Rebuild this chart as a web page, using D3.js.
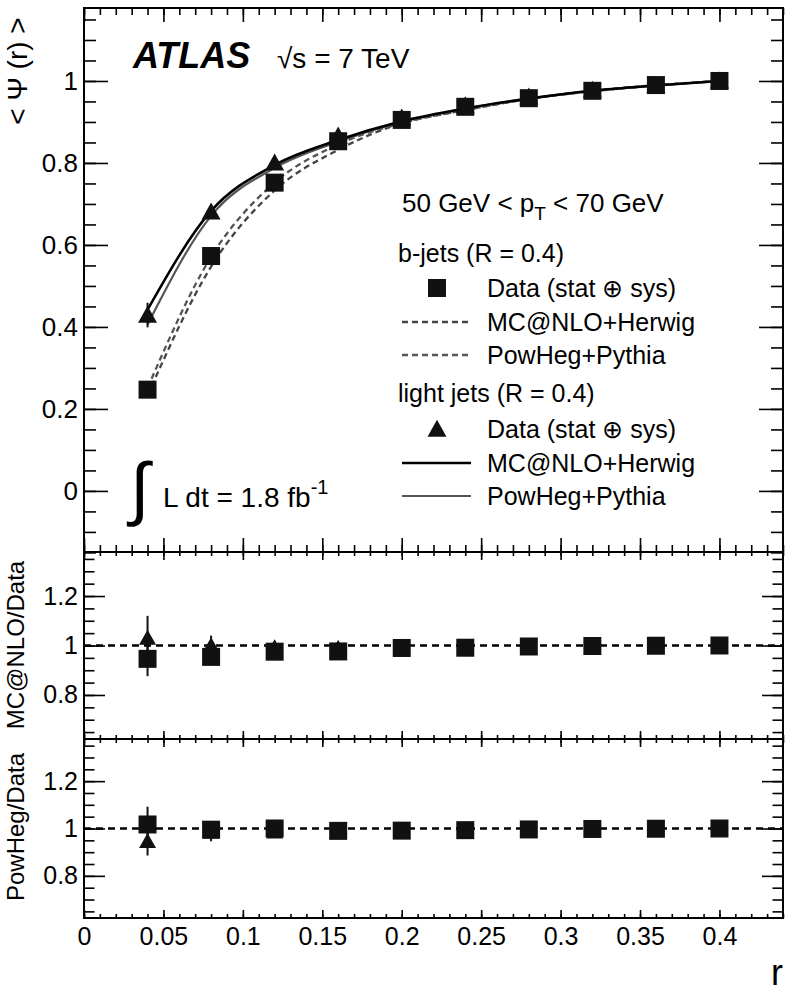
<!DOCTYPE html>
<html><head><meta charset="utf-8">
<script src="https://cdn.jsdelivr.net/npm/d3@7"></script>
<style>
body{margin:0;background:#fff;}
text{font-family:"Liberation Sans",Arial,Helvetica,sans-serif;fill:#000;}
</style></head><body>
<script>
var width = 794, height = 993;

// jet radius bins
var rPoints = [0.04, 0.08, 0.12, 0.16, 0.20, 0.24, 0.28, 0.32, 0.36, 0.40];

// integrated shape, data
var bData = [0.247, 0.573, 0.752, 0.853, 0.905, 0.937, 0.958, 0.976, 0.990, 1.0];
var bErr  = [0.010, 0.012, 0.010, 0.008, 0.006, 0.005, 0.004, 0.003, 0.002, 0.0];
var lData = [0.429, 0.681, 0.800, 0.866, 0.910, 0.940, 0.961, 0.978, 0.990, 1.0];
var lErr  = [0.030, 0.016, 0.012, 0.010, 0.007, 0.005, 0.004, 0.003, 0.002, 0.0];

// integrated shape, MC
var bMcnlo  = [0.233, 0.547, 0.733, 0.832, 0.897, 0.929, 0.956, 0.975, 0.989, 1.0];
var bPowheg = [0.251, 0.571, 0.752, 0.845, 0.897, 0.929, 0.956, 0.976, 0.990, 1.0];
var lMcnlo  = [0.442, 0.683, 0.795, 0.856, 0.902, 0.933, 0.957, 0.976, 0.989, 1.0];
var lPowheg = [0.406, 0.671, 0.788, 0.852, 0.900, 0.932, 0.957, 0.976, 0.989, 1.0];

// MC / data ratios
var mcRatioB = [0.946, 0.954, 0.975, 0.976, 0.990, 0.991, 0.996, 0.998, 0.999, 1.0];
var mcErrB   = [0.070, 0.035, 0.020, 0.015, 0.010, 0.008, 0.006, 0.004, 0.003, 0.002];
var mcRatioL = [1.030, 1.000, 0.992, 0.990, 0.992, 0.993, 0.996, 0.998, 0.999, 1.0];
var mcErrL   = [0.090, 0.040, 0.025, 0.018, 0.012, 0.009, 0.006, 0.004, 0.003, 0.002];
var pwRatioB = [1.017, 0.995, 1.000, 0.990, 0.991, 0.993, 0.996, 0.998, 0.999, 1.0];
var pwErrB   = [0.075, 0.035, 0.020, 0.015, 0.010, 0.008, 0.006, 0.004, 0.003, 0.002];
var pwRatioL = [0.946, 0.986, 0.986, 0.990, 0.990, 0.992, 0.995, 0.998, 0.999, 1.0];
var pwErrL   = [0.060, 0.040, 0.025, 0.018, 0.012, 0.009, 0.006, 0.004, 0.003, 0.002];

// tick labels
var xTicks = [0, 0.05, 0.1, 0.15, 0.2, 0.25, 0.3, 0.35, 0.4];
var yTicksMain = [0, 0.2, 0.4, 0.6, 0.8, 1];
var yTicksRatio = [0.8, 1, 1.2];

var xL = 84, xR = 783;

var x = d3.scaleLinear().domain([0, 0.44]).range([xL, xR]);
var yMain = d3.scaleLinear().domain([-0.149, 1.178]).range([552, 8]);
var yR1 = d3.scaleLinear().domain([0.622, 1.378]).range([739, 552]);
var yR2 = d3.scaleLinear().domain([0.622, 1.378]).range([918, 739]);

var fmt = function(d) { return String(+d.toFixed(2)); };

var svg = d3.select("body").append("svg")
    .attr("width", width).attr("height", height);

function ticks(g) {
  g.select(".domain").remove();
  g.attr("font-size", null).attr("font-family", null);
  g.selectAll("line").attr("stroke", "#000").attr("stroke-width", 1.6);
}

function frame(y, yMinor, yMajor, yLen, xLen, fontSize, xLabels) {
  var top = y.range()[1], bottom = y.range()[0];
  var xMinor = d3.range(0, 45).map(function(i) { return i / 100; });

  // left
  svg.append("g").attr("transform", "translate(" + xL + ",0)")
    .call(d3.axisLeft(y).tickValues(yMinor).tickSize(-yLen / 2).tickFormat(""))
    .call(ticks);
  svg.append("g").attr("transform", "translate(" + xL + ",0)")
    .call(d3.axisLeft(y).tickValues(yMajor).tickSize(-yLen).tickPadding(6).tickFormat(fmt))
    .call(ticks)
    .selectAll("text").attr("font-size", fontSize);
  // right
  svg.append("g").attr("transform", "translate(" + xR + ",0)")
    .call(d3.axisRight(y).tickValues(yMinor).tickSize(-yLen / 2).tickFormat(""))
    .call(ticks);
  svg.append("g").attr("transform", "translate(" + xR + ",0)")
    .call(d3.axisRight(y).tickValues(yMajor).tickSize(-yLen).tickFormat(""))
    .call(ticks);
  // top
  svg.append("g").attr("transform", "translate(0," + top + ")")
    .call(d3.axisTop(x).tickValues(xMinor).tickSize(-xLen / 2).tickFormat(""))
    .call(ticks);
  svg.append("g").attr("transform", "translate(0," + top + ")")
    .call(d3.axisTop(x).tickValues(xTicks).tickSize(-xLen).tickFormat(""))
    .call(ticks);
  // bottom
  svg.append("g").attr("transform", "translate(0," + bottom + ")")
    .call(d3.axisBottom(x).tickValues(xMinor).tickSize(-xLen / 2).tickFormat(""))
    .call(ticks);
  var b = svg.append("g").attr("transform", "translate(0," + bottom + ")")
    .call(d3.axisBottom(x).tickValues(xTicks).tickSize(-xLen).tickPadding(9)
      .tickFormat(xLabels ? fmt : ""))
    .call(ticks);
  b.selectAll("text").attr("font-size", 25);

  svg.append("rect")
    .attr("x", xL).attr("y", top)
    .attr("width", xR - xL).attr("height", bottom - top)
    .attr("fill", "none").attr("stroke", "#000").attr("stroke-width", 2);
}

function sq(g, cx, cy, s) {
  g.append("rect").attr("x", cx - s / 2).attr("y", cy - s / 2)
    .attr("width", s).attr("height", s).attr("fill", "#111");
}
function tri(g, cx, cy, w, h) {
  g.append("path")
    .attr("d", "M" + cx + "," + (cy - h * 0.55) + "L" + (cx - w / 2) + "," + (cy + h * 0.45) +
      "L" + (cx + w / 2) + "," + (cy + h * 0.45) + "Z")
    .attr("fill", "#111");
}

function points(g, y, vals, errs, kind, size) {
  rPoints.forEach(function(r, i) {
    if (errs[i] > 0) {
      g.append("line")
        .attr("x1", x(r)).attr("x2", x(r))
        .attr("y1", y(vals[i] - errs[i])).attr("y2", y(vals[i] + errs[i]))
        .attr("stroke", "#111").attr("stroke-width", 2);
    }
  });
  rPoints.forEach(function(r, i) {
    if (kind === "sq") sq(g, x(r), y(vals[i]), size);
    else tri(g, x(r), y(vals[i]), size + 1, size - 1);
  });
}

// ---------- main panel
var yMinorMain = d3.range(-3, 24).map(function(i) { return i * 0.05; });
frame(yMain, yMinorMain, yTicksMain, 24, 14, 26, false);

var line = d3.line()
  .x(function(d) { return x(d[0]); })
  .y(function(d) { return yMain(d[1]); })
  .curve(d3.curveMonotoneX);

var curves = [
  { v: bMcnlo,  color: "#444", w: 2.3, dash: "6,4" },
  { v: bPowheg, color: "#555", w: 2.3, dash: "6,4" },
  { v: lPowheg, color: "#555", w: 2.2, dash: null },
  { v: lMcnlo,  color: "#000", w: 2.6, dash: null }
];
curves.forEach(function(c) {
  svg.append("path")
    .datum(d3.zip(rPoints, c.v))
    .attr("d", line)
    .attr("fill", "none")
    .attr("stroke", c.color)
    .attr("stroke-width", c.w)
    .attr("stroke-dasharray", c.dash);
});

var gMain = svg.append("g");
points(gMain, yMain, bData, bErr, "sq", 18);
points(gMain, yMain, lData, lErr, "tri", 18);

// ---------- ratio panels
var yMinorRatio = d3.range(13, 28).map(function(i) { return i * 0.05; });
frame(yR1, yMinorRatio, yTicksRatio, 21, 8, 25, false);
frame(yR2, yMinorRatio, yTicksRatio, 21, 8, 25, true);

[yR1, yR2].forEach(function(y) {
  svg.append("line")
    .attr("x1", xL).attr("x2", xR)
    .attr("y1", y(1)).attr("y2", y(1))
    .attr("stroke", "#000").attr("stroke-width", 2.4)
    .attr("stroke-dasharray", "7,5");
});

var gR1 = svg.append("g");
points(gR1, yR1, mcRatioB, mcErrB, "sq", 18);
points(gR1, yR1, mcRatioL, mcErrL, "tri", 16);
var gR2 = svg.append("g");
points(gR2, yR2, pwRatioB, pwErrB, "sq", 18);
points(gR2, yR2, pwRatioL, pwErrL, "tri", 16);

// ---------- axis titles
svg.append("text")
  .attr("transform", "translate(27,71) rotate(-90)")
  .attr("text-anchor", "middle").attr("font-size", 28)
  .text("< \u03A8 (r) >");
svg.append("text")
  .attr("transform", "translate(24,645) rotate(-90)")
  .attr("text-anchor", "middle").attr("font-size", 24)
  .text("MC@NLO/Data");
svg.append("text")
  .attr("transform", "translate(24,827) rotate(-90)")
  .attr("text-anchor", "middle").attr("font-size", 24)
  .text("PowHeg/Data");
svg.append("text")
  .attr("x", xR).attr("y", 985)
  .attr("text-anchor", "end").attr("font-size", 36)
  .text("r");

// ---------- labels
svg.append("text")
  .attr("x", 133).attr("y", 68)
  .attr("font-size", 36).attr("font-weight", "bold").attr("font-style", "italic")
  .text("ATLAS");
svg.append("text")
  .attr("x", 277).attr("y", 68)
  .attr("font-size", 28)
  .text("\u221As = 7 TeV");

svg.append("text")
  .attr("x", 130).attr("y", 512)
  .attr("font-size", 70).attr("font-family", "DejaVu Sans")
  .text("\u222B");
var lumi = svg.append("text")
  .attr("x", 163).attr("y", 507)
  .attr("font-size", 28);
lumi.append("tspan").text("L dt = 1.8 fb");
lumi.append("tspan").attr("dy", -13).attr("font-size", 20).text("-1");

var pt = svg.append("text")
  .attr("x", 402).attr("y", 212).attr("font-size", 26);
pt.append("tspan").text("50 GeV < p");
pt.append("tspan").attr("dy", 8).attr("font-size", 19).text("T");
pt.append("tspan").attr("dy", -8).text(" < 70 GeV");

// ---------- legend
var legend = svg.append("g");
var legX0 = 402, legX1 = 471, legText = 487;
var headers = [
  { t: "b-jets (R = 0.4)", y: 262 },
  { t: "light jets (R = 0.4)", y: 402 }
];
headers.forEach(function(h) {
  legend.append("text").attr("x", 398).attr("y", h.y).attr("font-size", 25).text(h.t);
});

var entries = [
  { t: "Data (stat \u2295 sys)", y: 297, kind: "sq" },
  { t: "MC@NLO+Herwig", y: 331, kind: "line", color: "#444", w: 2.3, dash: "6,4" },
  { t: "PowHeg+Pythia", y: 364, kind: "line", color: "#555", w: 2.3, dash: "6,4" },
  { t: "Data (stat \u2295 sys)", y: 438, kind: "tri" },
  { t: "MC@NLO+Herwig", y: 472, kind: "line", color: "#000", w: 2.6, dash: null },
  { t: "PowHeg+Pythia", y: 505, kind: "line", color: "#555", w: 2.2, dash: null }
];
entries.forEach(function(e) {
  var cy = e.y - 9;
  if (e.kind === "sq") sq(legend, 437, cy, 18);
  else if (e.kind === "tri") tri(legend, 437, cy, 19, 17);
  else {
    legend.append("line")
      .attr("x1", legX0).attr("x2", legX1).attr("y1", cy).attr("y2", cy)
      .attr("stroke", e.color).attr("stroke-width", e.w)
      .attr("stroke-dasharray", e.dash);
  }
  legend.append("text").attr("x", legText).attr("y", e.y).attr("font-size", 25).text(e.t);
});
</script>
</body></html>
